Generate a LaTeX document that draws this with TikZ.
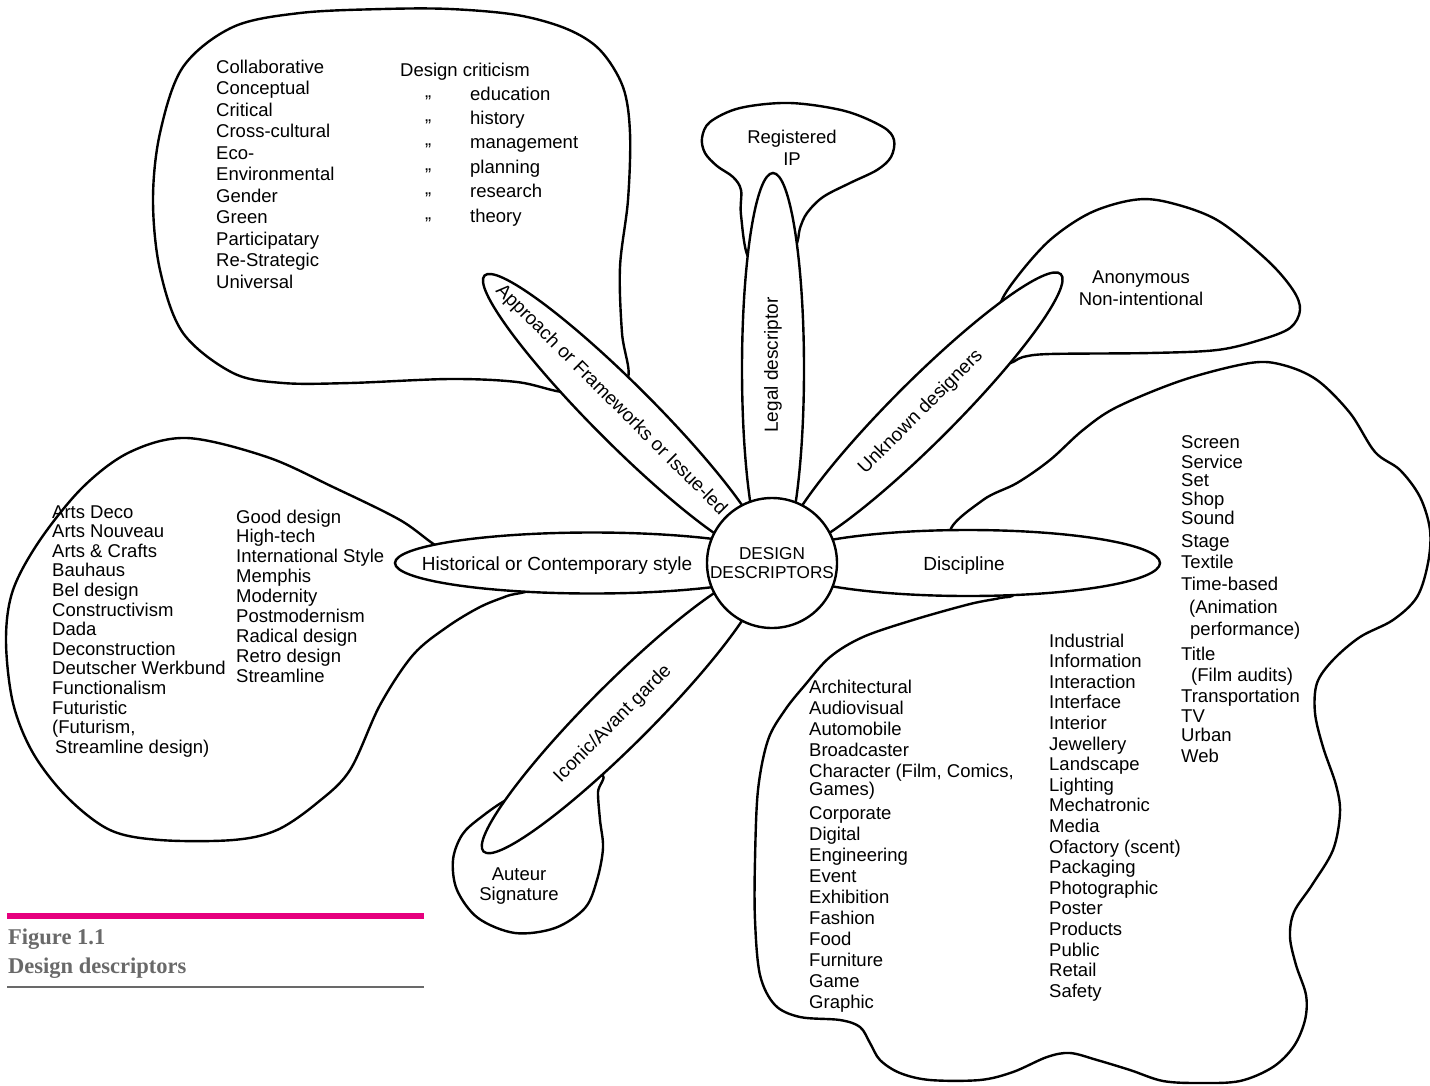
\documentclass[tikz,border=0pt]{standalone}
\usepackage{fontspec}
\setmainfont{Liberation Sans}
\newfontfamily\capfont{Liberation Serif}
\usetikzlibrary{shapes.geometric}
\definecolor{figpink}{RGB}{230,0,126}
\definecolor{capgray}{RGB}{105,105,105}
\newcommand{\mylist}[1]{\begin{tabular}[t]{@{}l@{}}#1\end{tabular}}
\newcommand{\mycent}[1]{\begin{tabular}[t]{@{}c@{}}#1\end{tabular}}
\begin{document}
\begin{tikzpicture}[x=1pt,y=-1pt,
  blob/.style={line width=2.4pt, line join=round},
  petal/.style={draw, fill=white, ellipse, inner sep=0pt, line width=2.4pt},
  lbl/.style={font=\fontsize{19}{22}\selectfont, inner sep=0pt},
  lst/.style={font=\fontsize{18.5}{#1}\selectfont, inner sep=0pt, anchor=base west},
  lst/.default=21pt,
  ctr/.style={font=\fontsize{18.5}{#1}\selectfont, inner sep=0pt, anchor=base},
  ctr/.default=22pt,
  captxt/.style={font=\capfont\bfseries\fontsize{22.5}{27}\selectfont, text=capgray, inner sep=0pt, anchor=base west}
]
\useasboundingbox (0,0) rectangle (1430,1085);

% ---------- blobs ----------
% approach blob
\draw[blob] plot[smooth cycle, tension=0.55] coordinates {
 (562,392) (517,382) (450,379) (350,383) (283,383) (233,373) (183,333) (160,270)
 (153,200) (160,133) (183,67) (233,27) (300,13) (383,9) (450,9) (517,15) (567,29)
 (600,50) (623,87) (630,133) (628,200) (620,267) (622,333) (628,378) (602,393)};
% historical blob
\draw[blob] plot[smooth cycle, tension=0.55] coordinates {
 (440,548) (400,520) (333,487) (267,457) (187,438) (130,452) (83,487) (40,540)
 (13,590) (6,640) (13,703) (33,753) (67,797) (110,830) (160,840) (233,840)
 (277,830) (317,803) (350,770) (380,705) (413,655) (447,627) (480,607) (507,596)
 (528,588) (480,563)};
% auteur blob
\draw[blob] plot[smooth cycle, tension=0.55] coordinates {
 (601,775) (598,792) (600,820) (603,848) (597,880) (585,908) (555,928) (515,933)
 (478,918) (457,890) (453,860) (462,835) (480,818) (510,798) (551,784)};
% registered blob
\draw[blob] plot[smooth cycle, tension=0.55] coordinates {
 (749,258) (741,215) (741,190) (733,177) (717,166) (705,153) (702,138) (710,122)
 (740,108) (790,103) (845,111) (883,127) (894,140) (891,157) (877,170) (850,183)
 (823,197) (807,213) (800,228) (795,246) (773,250)};
% anonymous blob
\draw[blob] plot[smooth cycle, tension=0.55] coordinates {
 (1000,305) (1017,277) (1050,240) (1090,213) (1133,200) (1167,202) (1217,220)
 (1267,260) (1293,290) (1300,310) (1290,328) (1260,340) (1217,350) (1150,353)
 (1050,354) (1023,357) (1008,362) (1002,333)};
% discipline blob
\draw[blob] plot[smooth cycle, tension=0.55] coordinates {
 (950,533) (983,500) (1017,483) (1050,460) (1083,430) (1117,407) (1183,380)
 (1250,363) (1283,365) (1317,380) (1350,413) (1375,452) (1400,470) (1420,497)
 (1430,530) (1428,563) (1417,597) (1393,620) (1360,637) (1333,660) (1317,683)
 (1315,713) (1323,747) (1336,785) (1340,813) (1333,850) (1312,885) (1294,912)
 (1290,937) (1296,965) (1306,995) (1305,1020) (1294,1046) (1273,1067)
 (1240,1081) (1200,1083) (1163,1081) (1130,1070) (1097,1060) (1070,1053)
 (1047,1057) (1013,1072) (980,1080) (930,1080) (900,1073) (880,1060) (870,1043)
 (860,1027) (840,1020) (800,1017) (775,1005) (760,975) (755,920) (755,860)
 (758,790) (768,740) (785,710) (805,685) (830,657) (863,637) (913,620)
 (970,604) (1000,598) (1013,593) (990,563)};

% ---------- petals ----------
\node[petal, minimum width=394pt, minimum height=61pt] (hist) at (592,563) {};
\node[petal, minimum width=384pt, minimum height=66pt] (disc) at (968,563) {};
\node[petal, minimum width=392pt, minimum height=62pt, rotate=90] (legal) at (773,369) {};
\node[petal, minimum width=389pt, minimum height=62pt, rotate=45] (unk) at (923.3,411.7) {};
\node[petal, minimum width=393pt, minimum height=60pt, rotate=-45] (appr) at (623.5,414.5) {};
\node[petal, minimum width=390pt, minimum height=62pt, rotate=45] (icon) at (621.4,713.6) {};

% ---------- centre ----------
\node[draw, fill=white, circle, line width=2.4pt, minimum size=130pt, inner sep=0pt,
      align=center, font=\fontsize{17.2}{19}\selectfont] (dd) at (772,563) {DESIGN\\DESCRIPTORS};

% ---------- petal labels ----------
\node[lbl, anchor=base] (histtxt) at (557,570) {Historical or Contemporary style};
\node[lbl, anchor=base] (disctxt) at (964,570) {Discipline};
\node[lbl, rotate=90] (legaltxt) at (773,365) {Legal descriptor};
\node[lbl, rotate=45] (unktxt) at (921,412) {Unknown designers};
\node[lbl, rotate=-45] (apprtxt) at (611,400) {Approach or Frameworks or Issue-led};
\node[lbl, rotate=45] (icontxt) at (613,724) {Iconic/Avant garde};

% ---------- blob texts ----------
\node[lst=21.5pt] (appc1) at (216,73) {\mylist{Collaborative\\Conceptual\\Critical\\Cross-cultural\\Eco-\\Environmental\\Gender\\Green\\Participatary\\Re-Strategic\\Universal}};
\node[lst] (dcrit) at (400,76) {Design criticism};
\node[lst=24.4pt] (dit) at (425,108) {\mylist{"\\"\\"\\"\\"\\"}};
\node[lst=24.4pt] (dcitems) at (470,100) {\mylist{education\\history\\management\\planning\\research\\theory}};

\node[ctr] (regtxt) at (792,143) {\mycent{Registered\\IP}};
\node[ctr] (anontxt) at (1141,283) {\mycent{Anonymous\\Non-intentional}};
\node[ctr=20pt] (auttxt) at (519,880) {\mycent{Auteur\\Signature}};

\node[lst=19.6pt] (histc1) at (52,518) {\mylist{Arts Deco\\Arts Nouveau\\Arts \& Crafts\\Bauhaus\\Bel design\\Constructivism\\Dada\\Deconstruction\\Deutscher Werkbund\\Functionalism\\Futuristic\\(Futurism,\\\hspace*{3pt}Streamline design)}};
\node[lst=19.9pt] (histc2) at (236,523) {\mylist{Good design\\High-tech\\International Style\\Memphis\\Modernity\\Postmodernism\\Radical design\\Retro design\\Streamline}};

\node[lst=21pt] (discc1) at (809,693) {\mylist{Architectural\\Audiovisual\\Automobile\\Broadcaster\\Character (Film, Comics,\\[-3pt]Games)\\[3pt]Corporate\\Digital\\Engineering\\Event\\Exhibition\\Fashion\\Food\\Furniture\\Game\\Graphic}};
\node[lst=20.6pt] (discc2) at (1049,647) {\mylist{Industrial\\Information\\Interaction\\Interface\\Interior\\Jewellery\\Landscape\\Lighting\\Mechatronic\\Media\\Ofactory (scent)\\Packaging\\Photographic\\Poster\\Products\\Public\\Retail\\Safety}};
\node[lst=21pt] (discc3) at (1181,448) {\mylist{Screen\\[-1pt]Service\\[-3pt]Set\\[-2pt]Shop\\[-2pt]Sound\\[2pt]Stage\\Textile\\[1pt]Time-based\\[2pt]\hspace*{8pt}(Animation\\[1pt]\hspace*{9pt}performance)\\[4pt]Title\\\hspace*{10pt}(Film audits)\\Transportation\\[-1pt]TV\\[-2pt]Urban\\Web}};

% ---------- caption ----------
\coordinate (pinkL) at (7,916);
\coordinate (pinkR) at (424,916);
\coordinate (grayL) at (7,987);
\coordinate (grayR) at (424,987);
\draw[figpink, line width=6pt] (pinkL) -- (pinkR);
\node[captxt] (figno) at (8,944) {Figure 1.1};
\node[captxt] (figttl) at (8,973) {Design descriptors};
\draw[capgray, line width=2.5pt] (grayL) -- (grayR);
\end{tikzpicture}
\end{document}
